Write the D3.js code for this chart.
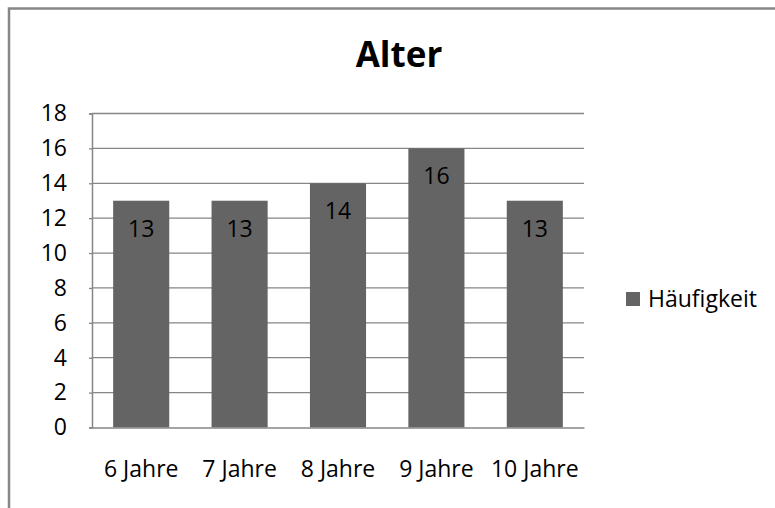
<!DOCTYPE html>
<html>
<head>
<meta charset="utf-8">
<script src="https://cdn.jsdelivr.net/npm/d3@7/dist/d3.min.js"></script>
<style>
  html, body { margin: 0; padding: 0; background: #fff; }
  svg { display: block; }
  text { font-family: "Open Sans", "DejaVu Sans", sans-serif; fill: #000; }
</style>
</head>
<body>
<svg id="chart" width="775" height="508"></svg>
<script>
// Chart data
const categories = ["6 Jahre", "7 Jahre", "8 Jahre", "9 Jahre", "10 Jahre"];
const values = [13, 13, 14, 16, 13];
const seriesName = "Häufigkeit";
const chartTitle = "Alter";
const yTicks = [0, 2, 4, 6, 8, 10, 12, 14, 16, 18];

const svg = d3.select("#chart");
const W = 775, H = 508;

const plot = { left: 92, right: 584, top: 113.5, bottom: 427.5 };
const gridColor = "#868686";
const barColor = "#646464";
const fontSize = 23;

// Outer chart frame
svg.append("rect")
  .attr("x", 9).attr("y", 8.5)
  .attr("width", W + 10).attr("height", H + 10)
  .attr("fill", "none")
  .attr("stroke", "#878787")
  .attr("stroke-width", 2.5);

const x = d3.scaleBand()
  .domain(categories)
  .range([plot.left, plot.right])
  .paddingInner(0.43)
  .paddingOuter(0.215);

const y = d3.scaleLinear()
  .domain([0, 18])
  .range([plot.bottom, plot.top]);

// Horizontal gridlines
svg.append("g")
  .selectAll("line")
  .data(yTicks.filter(d => d > 0))
  .join("line")
  .attr("x1", plot.left).attr("x2", plot.right)
  .attr("y1", d => y(d)).attr("y2", d => y(d))
  .attr("stroke", gridColor)
  .attr("stroke-width", 1.3);

// Bars
svg.append("g")
  .selectAll("rect")
  .data(values)
  .join("rect")
  .attr("x", (d, i) => x(categories[i]))
  .attr("y", d => y(d))
  .attr("width", x.bandwidth())
  .attr("height", d => y(0) - y(d))
  .attr("fill", barColor);

// Value labels inside the bar ends
svg.append("g")
  .selectAll("text")
  .data(values)
  .join("text")
  .attr("x", (d, i) => x(categories[i]) + x.bandwidth() / 2)
  .attr("y", d => y(d) + 36)
  .attr("text-anchor", "middle")
  .attr("font-size", fontSize)
  .text(d => d);

// Y axis
const yAxis = d3.axisLeft(y)
  .tickValues(yTicks)
  .tickSize(3)
  .tickPadding(22)
  .tickFormat(d3.format("d"));
const gy = svg.append("g")
  .attr("transform", `translate(${plot.left},0)`)
  .call(yAxis);
gy.select(".domain").attr("stroke", gridColor).attr("stroke-width", 1.5);
gy.selectAll(".tick line").attr("stroke", gridColor).attr("stroke-width", 1.3);
gy.selectAll(".tick text")
  .attr("font-size", fontSize)
  .attr("font-family", "'Open Sans', sans-serif")
  .attr("fill", "#000");

// X axis
const xAxis = d3.axisBottom(x).tickSize(0).tickPadding(33);
const gx = svg.append("g")
  .attr("transform", `translate(0,${plot.bottom})`)
  .call(xAxis);
gx.select(".domain").attr("stroke", gridColor).attr("stroke-width", 1.5);
gx.selectAll(".tick text")
  .attr("font-size", fontSize)
  .attr("font-family", "'Open Sans', sans-serif")
  .attr("fill", "#000");

// Title
svg.append("text")
  .attr("x", 399)
  .attr("y", 67)
  .attr("text-anchor", "middle")
  .attr("font-size", 35)
  .attr("font-weight", "bold")
  .text(chartTitle);

// Legend
const legend = svg.append("g").attr("transform", "translate(626,292)");
legend.append("rect")
  .attr("width", 14).attr("height", 14)
  .attr("fill", barColor);
legend.append("text")
  .attr("x", 22).attr("y", 7)
  .attr("dy", "0.35em")
  .attr("font-size", fontSize)
  .text(seriesName);
</script>
</body>
</html>
